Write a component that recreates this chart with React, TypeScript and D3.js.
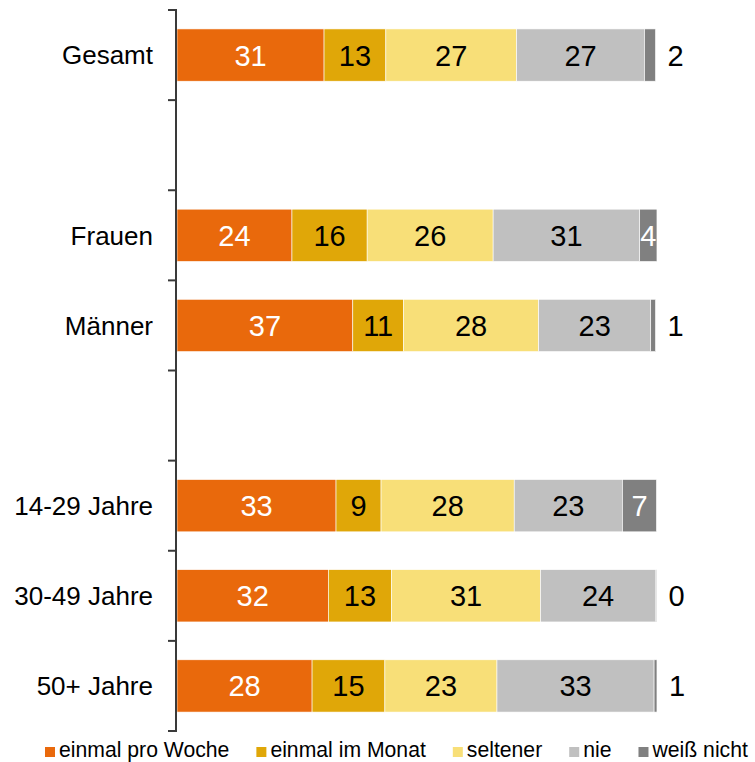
import React, { useEffect, useRef } from "react";
import * as d3 from "d3";

const categories = ["Gesamt", "", "Frauen", "Männer", "", "14-29 Jahre", "30-49 Jahre", "50+ Jahre"];
const seriesNames = ["einmal pro Woche", "einmal im Monat", "seltener", "nie", "weiß nicht"];
const seriesColors = ["#E9690C", "#E0A708", "#F8DF78", "#C0C0C0", "#808080"];
const labelColors = ["#FFFFFF", "#000000", "#000000", "#000000", "#FFFFFF"];

const einmalProWoche = [30.7, null, 24.0, 36.7, null, 33.2, 31.6, 28.2];
const einmalImMonat = [12.9, null, 15.7, 10.6, null, 9.4, 13.2, 15.2];
const seltener = [27.3, null, 26.3, 28.2, null, 27.8, 31.1, 23.4];
const nie = [26.7, null, 30.6, 23.4, null, 22.6, 24.0, 32.8];
const weissNicht = [2.3, null, 3.6, 1.0, null, 7.1, 0.2, 0.6];

const series = [einmalProWoche, einmalImMonat, seltener, nie, weissNicht];

const FONT = "'Liberation Sans', Arial, Helvetica, sans-serif";

export default function App() {
  const ref = useRef<SVGSVGElement>(null);

  useEffect(() => {
    const svg = d3.select(ref.current);
    svg.selectAll("*").remove();

    const y = d3
      .scaleBand<number>()
      .domain(categories.map((_, i) => i))
      .range([10, 731])
      .paddingInner(0.42)
      .paddingOuter(0.21);
    const x = d3.scaleLinear().domain([0, 100]).range([177, 656]);

    const g = svg.append("g");

    categories.forEach((cat, i) => {
      if (series[0][i] == null) return;
      let acc = 0;
      series.forEach((s, k) => {
        const v = s[i] as number;
        const x0 = x(acc);
        const x1 = x(acc + v);
        acc += v;
        g.append("rect")
          .attr("x", x0)
          .attr("y", y(i)!)
          .attr("width", Math.max(0, x1 - x0))
          .attr("height", y.bandwidth())
          .attr("fill", seriesColors[k])
          .attr("stroke", "#ffffff")
          .attr("stroke-width", 0.6);
        const label = String(Math.round(v));
        const cy = y(i)! + y.bandwidth() / 2;
        if (k === series.length - 1 && v < 3) {
          g.append("text")
            .attr("x", x1 + 12)
            .attr("y", cy)
            .attr("dy", "0.36em")
            .attr("font-family", FONT)
            .attr("font-size", 29)
            .attr("fill", "#000")
            .text(label);
        } else {
          g.append("text")
            .attr("x", (x0 + x1) / 2)
            .attr("y", cy)
            .attr("dy", "0.36em")
            .attr("text-anchor", "middle")
            .attr("font-family", FONT)
            .attr("font-size", 29)
            .attr("fill", labelColors[k])
            .text(label);
        }
      });
      g.append("text")
        .attr("x", 153)
        .attr("y", y(i)! + y.bandwidth() / 2)
        .attr("dy", "0.36em")
        .attr("text-anchor", "end")
        .attr("font-family", FONT)
        .attr("font-size", 26)
        .attr("fill", "#000")
        .text(cat);
    });

    // axis
    const step = y.step();
    const axis = svg.append("g").attr("stroke", "#3a3a3a").attr("stroke-width", 2);
    axis.append("line").attr("x1", 176).attr("x2", 176).attr("y1", 9).attr("y2", 732);
    d3.range(categories.length + 1).forEach((j) => {
      const ty = 10 + j * step;
      axis.append("line").attr("x1", 168).attr("x2", 177).attr("y1", ty).attr("y2", ty);
    });

    // legend
    const leg = svg.append("g");
    let lx = 45;
    seriesNames.forEach((name, k) => {
      leg.append("rect")
        .attr("x", lx)
        .attr("y", 747)
        .attr("width", 10)
        .attr("height", 10)
        .attr("fill", seriesColors[k]);
      const t = leg.append("text")
        .attr("x", lx + 14)
        .attr("y", 757)
        .attr("font-family", FONT)
        .attr("font-size", 21.2)
        .attr("fill", "#000")
        .text(name);
      const w = (t.node() as SVGTextElement).getComputedTextLength();
      lx += 14 + w + 27;
    });
  }, []);

  return (
    <svg
      ref={ref}
      width={755}
      height={762}
      style={{ position: "absolute", left: 0, top: 0, background: "#fff" }}
    />
  );
}
